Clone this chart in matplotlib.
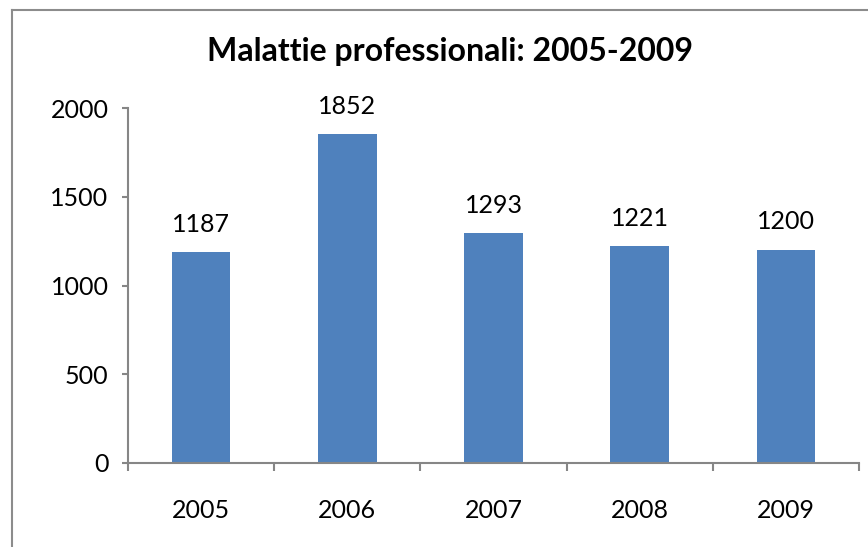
import matplotlib
matplotlib.use("Agg")
import matplotlib.pyplot as plt
from matplotlib.lines import Line2D

years = ["2005", "2006", "2007", "2008", "2009"]
values = [1187, 1852, 1293, 1221, 1200]
title = "Malattie professionali: 2005-2009"

plt.rcParams['font.family'] = ['Lato', 'DejaVu Sans']

fig = plt.figure(figsize=(8.68, 5.47), dpi=100)
ax = fig.add_axes([128 / 868, 1 - 463 / 547, (859 - 128) / 868, (463 - 108) / 547])

pos = range(len(years))
bars = ax.bar(pos, values, width=0.4, color="#4F81BD")
ax.set_xlim(-0.5, len(years) - 0.5)
ax.set_ylim(0, 2000)

# data labels above the bars
for b, v in zip(bars, values):
    ax.annotate(str(v), (b.get_x() + b.get_width() / 2, v), xytext=(0, 12),
                textcoords="offset points", ha="center", va="bottom", fontsize=18)

axis_col = "#868686"
for s in ["top", "right"]:
    ax.spines[s].set_visible(False)
for s in ["left", "bottom"]:
    ax.spines[s].set_color(axis_col)
    ax.spines[s].set_linewidth(1.5)

ax.set_yticks([0, 500, 1000, 1500, 2000])
ax.tick_params(axis="y", length=4, width=1.5, color=axis_col, labelsize=18, pad=10)

ax.set_xticks(list(pos))
ax.set_xticklabels(years)
ax.tick_params(axis="x", which="major", length=0, labelsize=18, pad=26)
ax.set_xticks([p - 0.5 for p in range(len(years) + 1)], minor=True)
ax.tick_params(axis="x", which="minor", length=6, width=1.5, color=axis_col)

fig.text(450 / 868, 1 - 51 / 547, title, ha="center", va="center",
         fontsize=23, fontweight="bold")

# chart area border (top and left visible)
fig.add_artist(Line2D([11.5 / 868, 1], [1 - 9.5 / 547] * 2, color="#8c8c8c", lw=1.5))
fig.add_artist(Line2D([11.5 / 868] * 2, [0, 1 - 9.5 / 547], color="#8c8c8c", lw=1.5))

fig.savefig("out.png", dpi=100)
